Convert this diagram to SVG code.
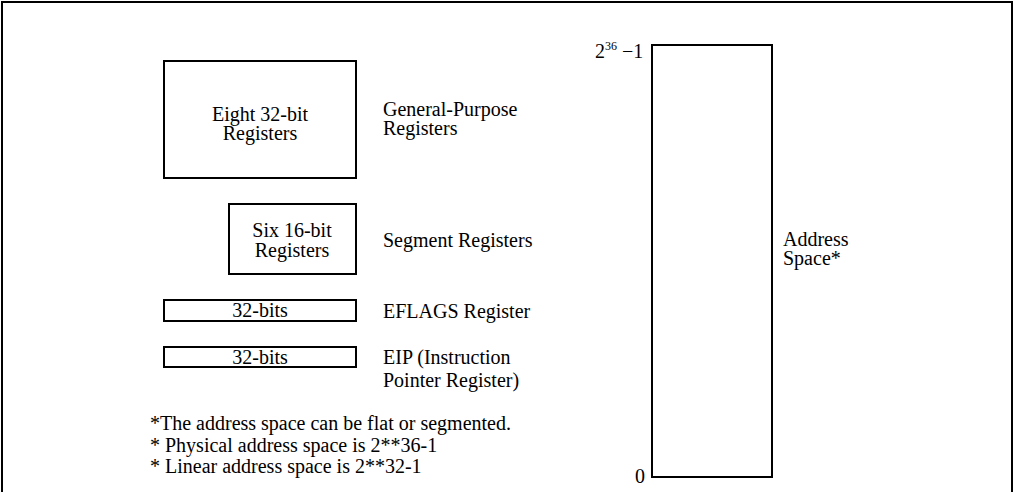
<svg xmlns="http://www.w3.org/2000/svg" width="1015" height="492" viewBox="0 0 1015 492">
<style>
.b{fill:none;stroke:#000;stroke-width:2}
.m{text-anchor:middle}
text{font-family:'Liberation Serif',serif !important;font-size:20px}
</style>
<rect width="1015" height="492" fill="#fff"/>
<path class="b" d="M2,492 V2 H1012 V492"/>
<g fill="#000">
<g id="gpr">
<rect class="b" x="164" y="61" width="192" height="117"/>
<text style="font-family:'Liberation Serif',serif" class="m" x="260" y="121">Eight 32-bit</text>
<text style="font-family:'Liberation Serif',serif" class="m" x="260" y="140">Registers</text>
<text style="font-family:'Liberation Serif',serif" x="383" y="116">General-Purpose</text>
<text style="font-family:'Liberation Serif',serif" x="383" y="135">Registers</text>
</g>
<g id="seg">
<rect class="b" x="229" y="204" width="127" height="70"/>
<text style="font-family:'Liberation Serif',serif" class="m" x="292" y="237">Six 16-bit</text>
<text style="font-family:'Liberation Serif',serif" class="m" x="292" y="257">Registers</text>
<text style="font-family:'Liberation Serif',serif" x="383" y="247">Segment Registers</text>
</g>
<g id="eflags">
<rect class="b" x="164" y="300" width="192" height="21"/>
<text style="font-family:'Liberation Serif',serif" class="m" x="260" y="317">32-bits</text>
<text style="font-family:'Liberation Serif',serif" x="383" y="318">EFLAGS Register</text>
</g>
<g id="eip">
<rect class="b" x="164" y="347" width="192" height="20"/>
<text style="font-family:'Liberation Serif',serif" class="m" x="260" y="364">32-bits</text>
<text style="font-family:'Liberation Serif',serif" x="383" y="364">EIP (Instruction</text>
<text style="font-family:'Liberation Serif',serif" x="383" y="387">Pointer Register)</text>
</g>
<g id="notes">
<text style="font-family:'Liberation Serif',serif" x="150" y="430">*The address space can be flat or segmented.</text>
<text style="font-family:'Liberation Serif',serif" x="150" y="452">* Physical address space is 2**36-1</text>
<text style="font-family:'Liberation Serif',serif" x="150" y="473">* Linear address space is 2**32-1</text>
</g>
<g id="addr">
<rect class="b" x="652" y="45" width="120" height="432"/>
<text style="font-family:'Liberation Serif',serif" x="595" y="58">2<tspan font-size="12" dy="-8">36</tspan><tspan dy="8"> −1</tspan></text>
<text style="font-family:'Liberation Serif',serif" x="635" y="483">0</text>
<text style="font-family:'Liberation Serif',serif" x="783" y="246">Address</text>
<text style="font-family:'Liberation Serif',serif" x="783" y="265">Space*</text>
</g>
</g>
<g id="connectors"/>
</svg>
